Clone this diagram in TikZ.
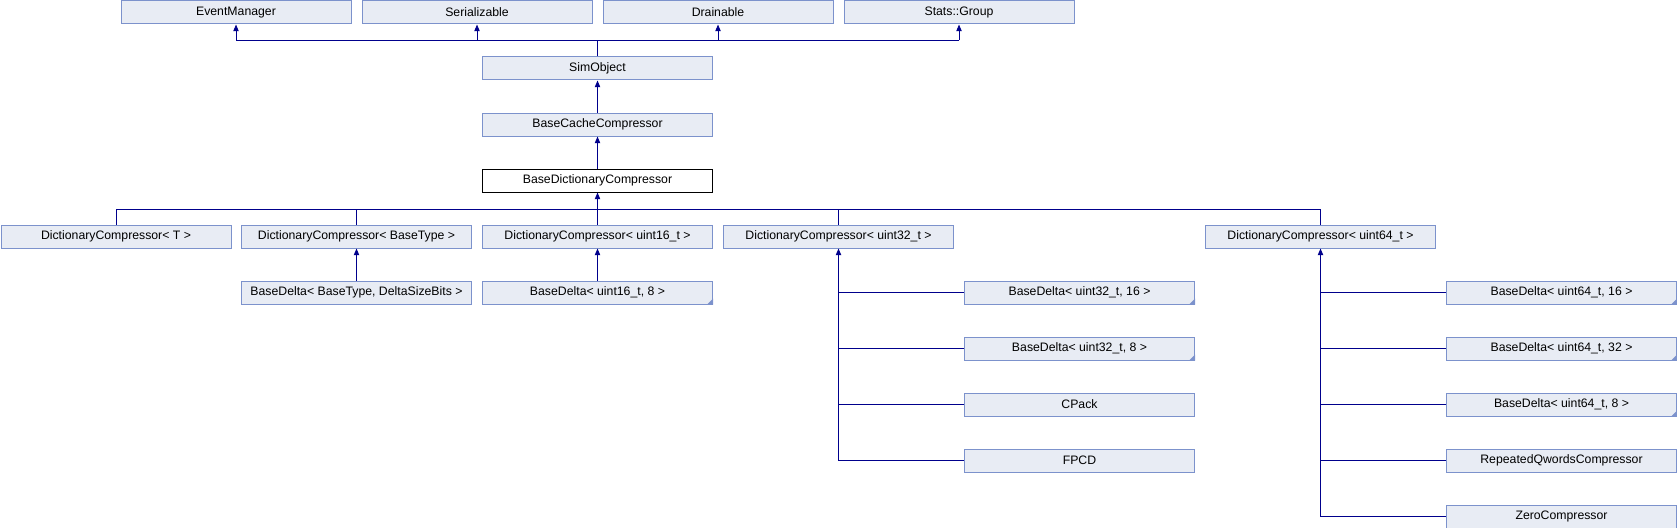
\documentclass[tikz,border=0pt]{standalone}
\usepackage{fontspec}
\setmainfont{Liberation Sans}
\usetikzlibrary{arrows.meta}
\definecolor{boxfill}{RGB}{232,236,244}
\definecolor{boxline}{RGB}{124,146,204}
\definecolor{conncol}{RGB}{0,0,140}
\tikzset{
  x=0.75pt, y=-0.75pt,
  cls/.style={draw=boxline, fill=boxfill, line width=0.75pt, rectangle,
    minimum width=172.5pt, minimum height=17.25pt, inner sep=0pt,
    anchor=north west, font=\fontsize{9.2}{10}\selectfont},
  cur/.style={cls, draw=black, fill=white},
  conn/.style={draw=conncol, line width=0.75pt},
  up/.style={conn, -{Triangle[length=5pt,width=4pt]}},
  tmpl/.style={fill=boxline}
}
\newcommand{\tmark}[1]{\fill[tmpl] (#1.south east) -- ++(-6,0) -- ++(6,-6) -- cycle;}
\begin{document}
\begin{tikzpicture}
\useasboundingbox (0,0) rectangle (1677,528);
% row 0
\node[cls] (em) at (120.5,0.5) {EventManager};
\node[cls] (ser) at (361.5,0.5) {Serializable};
\node[cls] (dr) at (602.5,0.5) {Drainable};
\node[cls] (sg) at (843.5,0.5) {Stats::Group};
% rows 1-3
\node[cls] (sim) at (482,56.5) {SimObject};
\node[cls] (bcc) at (482,112.5) {BaseCacheCompressor};
\node[cur] (bdc) at (482,168.5) {BaseDictionaryCompressor};
% row 4
\node[cls] (dT) at (0.5,224.5) {DictionaryCompressor< T >};
\node[cls] (dBT) at (241,224.5) {DictionaryCompressor< BaseType >};
\node[cls] (d16) at (482,224.5) {DictionaryCompressor< uint16\_t >};
\node[cls] (d32) at (723,224.5) {DictionaryCompressor< uint32\_t >};
\node[cls] (d64) at (1205,224.5) {DictionaryCompressor< uint64\_t >};
% row 5+
\node[cls] (bdBT) at (241,280.5) {BaseDelta< BaseType, DeltaSizeBits >};
\node[cls] (bd16) at (482,280.5) {BaseDelta< uint16\_t, 8 >};
\node[cls] (bd3216) at (964,280.5) {BaseDelta< uint32\_t, 16 >};
\node[cls] (bd328) at (964,336.5) {BaseDelta< uint32\_t, 8 >};
\node[cls] (cp) at (964,392.5) {CPack};
\node[cls] (fp) at (964,448.5) {FPCD};
\node[cls] (bd6416) at (1446,280.5) {BaseDelta< uint64\_t, 16 >};
\node[cls] (bd6432) at (1446,336.5) {BaseDelta< uint64\_t, 32 >};
\node[cls] (bd648) at (1446,392.5) {BaseDelta< uint64\_t, 8 >};
\node[cls] (rq) at (1446,448.5) {RepeatedQwordsCompressor};
\node[cls] (zc) at (1446,504.5) {ZeroCompressor};
% template markers
\tmark{bd16}\tmark{bd3216}\tmark{bd328}\tmark{bd6416}\tmark{bd6432}\tmark{bd648}
% top connectors
\draw[conn] (sim.north) -- ++(0,-16) coordinate (j1);
\draw[conn] (em.south |- j1) -- (sg.south |- j1);
\foreach \p in {em,ser,dr,sg} \draw[up] (\p.south |- j1) -- (\p.south);
\draw[up] (bcc.north) -- (sim.south);
\draw[up] (bdc.north) -- (bcc.south);
% fan under BaseDictionaryCompressor
\draw[up] (bdc.south) ++(0,16.5) coordinate (j2) -- (bdc.south);
\draw[conn] (dT.north |- j2) -- (d64.north |- j2);
\foreach \c in {dT,dBT,d16,d32,d64} \draw[conn] (\c.north |- j2) -- (\c.north);
% single children
\draw[up] (bdBT.north) -- (dBT.south);
\draw[up] (bd16.north) -- (d16.south);
% uint32 children
\draw[up] (d32.south |- fp.west) -- (d32.south);
\foreach \c in {bd3216,bd328,cp,fp} \draw[conn] (d32.south |- \c.west) -- (\c.west);
% uint64 children
\draw[up] (d64.south |- zc.west) -- (d64.south);
\foreach \c in {bd6416,bd6432,bd648,rq,zc} \draw[conn] (d64.south |- \c.west) -- (\c.west);
\end{tikzpicture}
\end{document}
